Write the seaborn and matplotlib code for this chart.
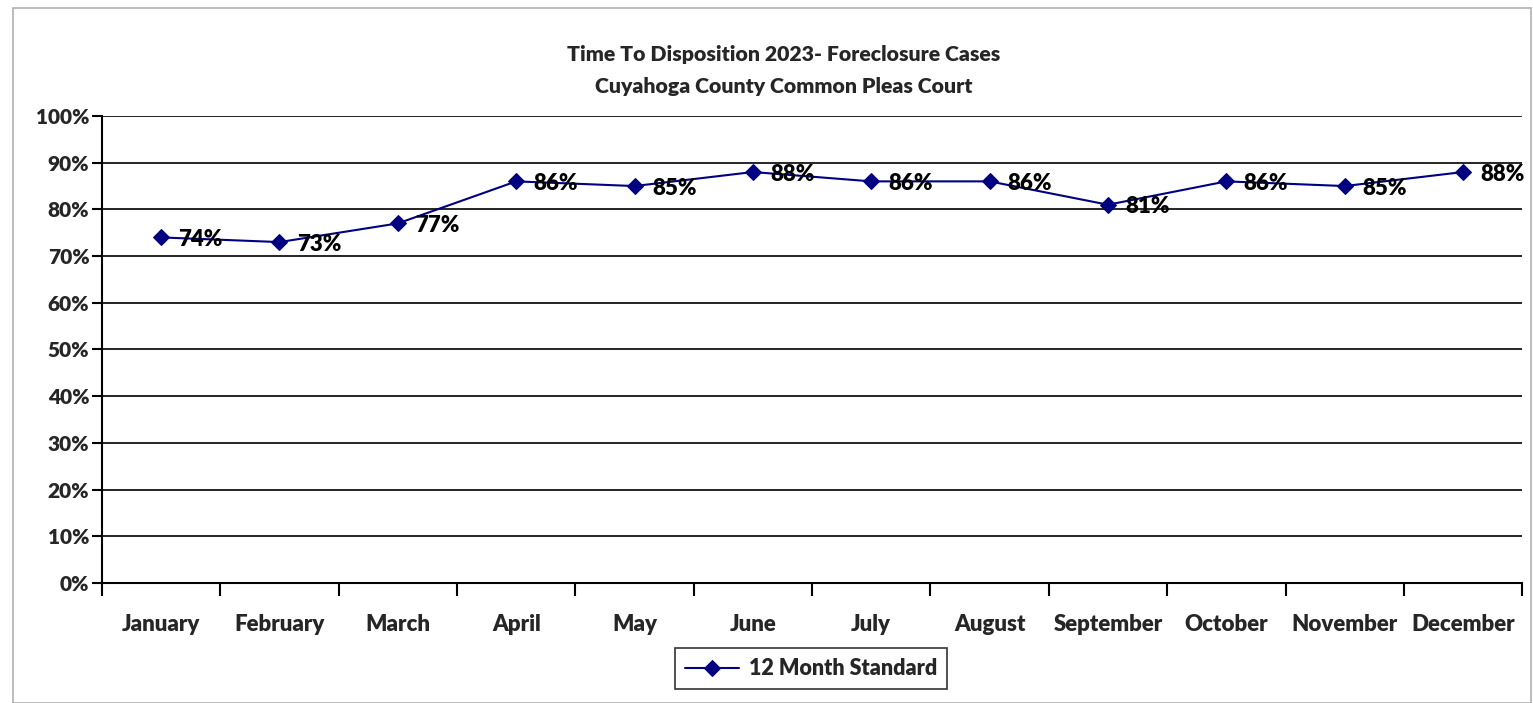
import numpy as np
import pandas as pd
import matplotlib
matplotlib.use("Agg")
import matplotlib.pyplot as plt
import seaborn as sns
from matplotlib.patches import Rectangle
from matplotlib.ticker import FixedLocator, PercentFormatter

months = ['January', 'February', 'March', 'April', 'May', 'June', 'July',
          'August', 'September', 'October', 'November', 'December']
pct = [74, 73, 77, 86, 85, 88, 86, 86, 81, 86, 85, 88]
series_name = '12 Month Standard'

df = pd.DataFrame({'month': months, 'pct': pct})

sns.set_style('white')
plt.rcParams['font.family'] = ['Lato', 'DejaVu Sans']
plt.rcParams['xtick.bottom'] = True
plt.rcParams['ytick.left'] = True
W = 'heavy'

fig = plt.figure(figsize=(15.33, 7.03), dpi=100)
ax = fig.add_axes([0.0665, 0.1707, 0.9265, 0.6643])

# outer chart-area border
fig.patches.append(Rectangle((0.0085, 0.0), 0.99, 0.988, transform=fig.transFigure,
                             fill=False, edgecolor='#b0b0b0', linewidth=1.2))

sns.lineplot(data=df, x='month', y='pct', ax=ax, color='#000080', linewidth=1.5,
             marker='D', markersize=8, markeredgecolor='#000080', label=series_name)

for i, v in enumerate(pct):
    ax.annotate(f'{v}%', (i, v), xytext=(12.5, -1.5), textcoords='offset points',
                ha='left', va='center', fontsize=16, fontweight=W, color='black')

ax.set_ylim(0, 100)
ax.set_xlim(-0.5, len(months) - 0.5)
ax.set_yticks(np.arange(0, 101, 10))
ax.yaxis.set_major_formatter(PercentFormatter(decimals=0))
ax.grid(axis='y', color='black', linewidth=1.2)
ax.set_axisbelow(True)

ax.set_xticks(range(len(months)))
ax.set_xticklabels(months)
ax.xaxis.set_minor_locator(FixedLocator(np.arange(-0.5, len(months), 1.0)))
ax.tick_params(axis='x', which='major', length=0, pad=22, labelsize=16)
ax.tick_params(axis='x', which='minor', bottom=True, length=9, width=1.5, color='black', direction='out')
ax.tick_params(axis='y', left=True, length=7, width=1.5, color='black', direction='out', labelsize=15, pad=2)
for lbl in ax.get_xticklabels() + ax.get_yticklabels():
    lbl.set_fontweight(W)

for side in ['top', 'right']:
    ax.spines[side].set_visible(False)
for side in ['left', 'bottom']:
    ax.spines[side].set_color('black')
    ax.spines[side].set_linewidth(1.5)

ax.set_xlabel('')
ax.set_ylabel('')

fig.text(0.511, 0.922, 'Time To Disposition 2023- Foreclosure Cases', ha='center', va='center',
         fontsize=15.3, fontweight=W)
fig.text(0.511, 0.877, 'Cuyahoga County Common Pleas Court', ha='center', va='center',
         fontsize=15.3, fontweight=W)

leg = ax.legend(loc='center', bbox_to_anchor=(0.529, 0.049), bbox_transform=fig.transFigure,
                frameon=True, fancybox=False, edgecolor='black', fontsize=15.5,
                handlelength=2.55, handletextpad=0.45, borderpad=0.45)
leg.get_frame().set_linewidth(1.2)
for t in leg.get_texts():
    t.set_fontweight(W)

fig.savefig('out.png', dpi=100)
